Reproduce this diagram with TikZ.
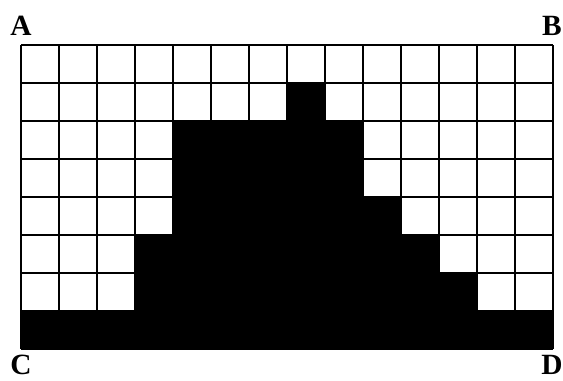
\documentclass[tikz,border=0pt]{standalone}
\usepackage{fontspec}
\setmainfont{Liberation Serif}
\usetikzlibrary{positioning}

\tikzset{
  gridline/.style={line width=1.5pt},
  corner/.style={font=\fontsize{22}{25}\selectfont\bfseries, inner sep=0pt, anchor=base}
}

\begin{document}
\begin{tikzpicture}
        \useasboundingbox (-0.553,-0.842) rectangle (14.263,9.184);
        % black region
        \fill[black] (0,0) -- (14,0) -- (14,1) -- (12,1) -- (12,2) -- (11,2) -- (11,3)
            -- (10,3) -- (10,4) -- (9,4) -- (9,6) -- (8,6) -- (8,7) -- (7,7) -- (7,6)
            -- (4,6) -- (4,3) -- (3,3) -- (3,1) -- (0,1) -- cycle;
        \draw[gridline] (0,0) grid (14,8);
        \node[corner] (A) at (0,8.237) {A};
        \node[corner] (B) at (13.97,8.237) {B};
        \node[corner] (C) at (0,-0.68) {C};
        \node[corner] (D) at (13.97,-0.68) {D};
    \end{tikzpicture}
\end{document}
